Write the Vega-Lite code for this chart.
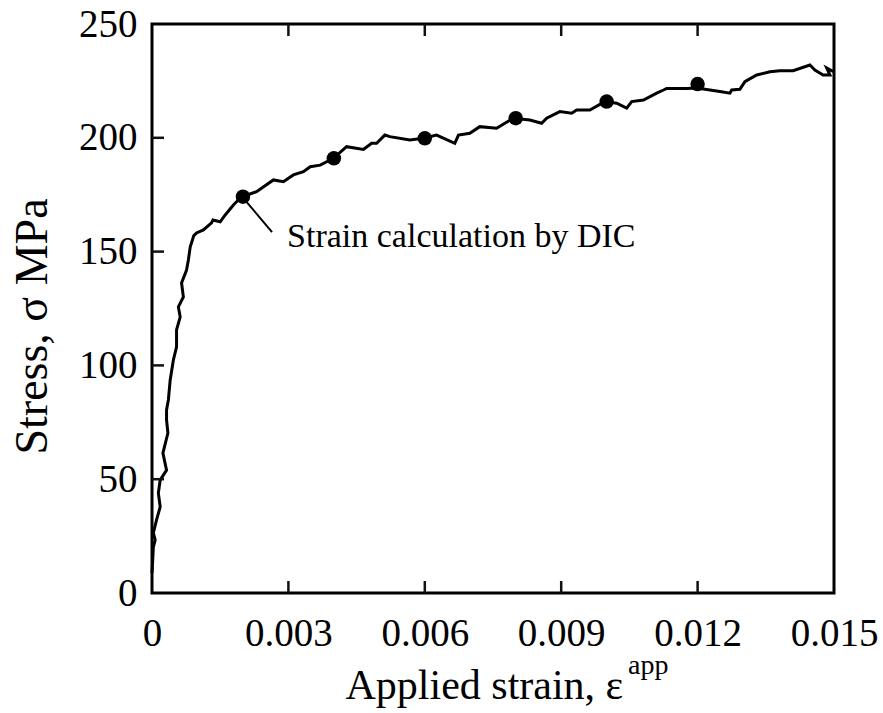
{
  "$schema": "https://vega.github.io/schema/vega-lite/v6.json",
  "width": 682,
  "height": 569,
  "autosize": "none",
  "padding": {"left": 152, "top": 24, "right": 49, "bottom": 120},
  "background": "white",
  "config": {
    "font": "Liberation Serif",
    "view": {"stroke": "black", "strokeWidth": 3},
    "axis": {
      "domain": false,
      "grid": false,
      "ticks": false,
      "labelFlush": false,
      "labelFont": "Liberation Serif",
      "labelFontSize": 39,
      "labelColor": "black",
      "titleFont": "Liberation Serif",
      "titleFontSize": 42,
      "titleFontWeight": "normal",
      "titleColor": "black"
    }
  },
  "datasets": {
    "curve": [
      {"i": 0, "strain": 0.0, "stress": 8.8},
      {"i": 1, "strain": 0.00001, "stress": 12.3},
      {"i": 2, "strain": 0.00003, "stress": 20.2},
      {"i": 3, "strain": 0.00007, "stress": 23.3},
      {"i": 4, "strain": 0.00003, "stress": 26.4},
      {"i": 5, "strain": 0.0001, "stress": 32.1},
      {"i": 6, "strain": 0.00018, "stress": 37.8},
      {"i": 7, "strain": 0.00014, "stress": 43.9},
      {"i": 8, "strain": 0.00018, "stress": 49.6},
      {"i": 9, "strain": 0.00032, "stress": 54.0},
      {"i": 10, "strain": 0.00024, "stress": 61.5},
      {"i": 11, "strain": 0.00035, "stress": 70.3},
      {"i": 12, "strain": 0.00032, "stress": 76.0},
      {"i": 13, "strain": 0.00032, "stress": 80.4},
      {"i": 14, "strain": 0.00036, "stress": 84.8},
      {"i": 15, "strain": 0.0004, "stress": 93.6},
      {"i": 16, "strain": 0.00047, "stress": 102.4},
      {"i": 17, "strain": 0.00054, "stress": 108.1},
      {"i": 18, "strain": 0.00054, "stress": 115.6},
      {"i": 19, "strain": 0.00062, "stress": 121.3},
      {"i": 20, "strain": 0.00058, "stress": 125.7},
      {"i": 21, "strain": 0.00069, "stress": 130.1},
      {"i": 22, "strain": 0.00065, "stress": 136.2},
      {"i": 23, "strain": 0.00076, "stress": 141.9},
      {"i": 24, "strain": 0.0008, "stress": 146.3},
      {"i": 25, "strain": 0.00084, "stress": 152.0},
      {"i": 26, "strain": 0.00092, "stress": 157.0},
      {"i": 27, "strain": 0.00098, "stress": 158.2},
      {"i": 28, "strain": 0.00113, "stress": 159.5},
      {"i": 29, "strain": 0.00131, "stress": 162.6},
      {"i": 30, "strain": 0.00134, "stress": 163.9},
      {"i": 31, "strain": 0.0015, "stress": 163.1},
      {"i": 32, "strain": 0.00161, "stress": 166.1},
      {"i": 33, "strain": 0.00179, "stress": 170.5},
      {"i": 34, "strain": 0.00197, "stress": 174.1},
      {"i": 35, "strain": 0.0023, "stress": 176.3},
      {"i": 36, "strain": 0.00267, "stress": 181.5},
      {"i": 37, "strain": 0.00289, "stress": 180.7},
      {"i": 38, "strain": 0.00311, "stress": 183.7},
      {"i": 39, "strain": 0.00333, "stress": 185.1},
      {"i": 40, "strain": 0.00348, "stress": 187.3},
      {"i": 41, "strain": 0.0037, "stress": 188.0},
      {"i": 42, "strain": 0.00399, "stress": 191.0},
      {"i": 43, "strain": 0.00428, "stress": 196.1},
      {"i": 44, "strain": 0.00465, "stress": 194.9},
      {"i": 45, "strain": 0.00483, "stress": 197.6},
      {"i": 46, "strain": 0.00494, "stress": 197.6},
      {"i": 47, "strain": 0.00512, "stress": 201.2},
      {"i": 48, "strain": 0.00523, "stress": 200.5},
      {"i": 49, "strain": 0.00567, "stress": 199.0},
      {"i": 50, "strain": 0.00597, "stress": 199.8},
      {"i": 51, "strain": 0.00626, "stress": 201.2},
      {"i": 52, "strain": 0.00666, "stress": 197.6},
      {"i": 53, "strain": 0.00674, "stress": 201.2},
      {"i": 54, "strain": 0.00699, "stress": 202.0},
      {"i": 55, "strain": 0.00721, "stress": 204.9},
      {"i": 56, "strain": 0.00758, "stress": 204.2},
      {"i": 57, "strain": 0.00776, "stress": 206.4},
      {"i": 58, "strain": 0.00795, "stress": 208.6},
      {"i": 59, "strain": 0.00831, "stress": 207.8},
      {"i": 60, "strain": 0.00857, "stress": 206.4},
      {"i": 61, "strain": 0.00868, "stress": 208.6},
      {"i": 62, "strain": 0.00897, "stress": 211.5},
      {"i": 63, "strain": 0.00923, "stress": 210.8},
      {"i": 64, "strain": 0.00934, "stress": 212.2},
      {"i": 65, "strain": 0.00963, "stress": 212.2},
      {"i": 66, "strain": 0.00996, "stress": 215.9},
      {"i": 67, "strain": 0.01022, "stress": 215.2},
      {"i": 68, "strain": 0.01044, "stress": 213.0},
      {"i": 69, "strain": 0.01055, "stress": 215.9},
      {"i": 70, "strain": 0.01081, "stress": 216.6},
      {"i": 71, "strain": 0.0111, "stress": 219.6},
      {"i": 72, "strain": 0.01125, "stress": 221.0},
      {"i": 73, "strain": 0.01132, "stress": 221.7},
      {"i": 74, "strain": 0.01176, "stress": 221.7},
      {"i": 75, "strain": 0.01198, "stress": 221.9},
      {"i": 76, "strain": 0.01249, "stress": 220.3},
      {"i": 77, "strain": 0.01271, "stress": 219.6},
      {"i": 78, "strain": 0.01275, "stress": 221.0},
      {"i": 79, "strain": 0.01293, "stress": 221.3},
      {"i": 80, "strain": 0.01304, "stress": 224.7},
      {"i": 81, "strain": 0.0133, "stress": 227.6},
      {"i": 82, "strain": 0.01359, "stress": 229.0},
      {"i": 83, "strain": 0.01381, "stress": 229.5},
      {"i": 84, "strain": 0.0141, "stress": 229.5},
      {"i": 85, "strain": 0.01447, "stress": 232.0},
      {"i": 86, "strain": 0.01458, "stress": 229.8},
      {"i": 87, "strain": 0.01476, "stress": 227.6},
      {"i": 88, "strain": 0.01491, "stress": 227.6},
      {"i": 89, "strain": 0.01484, "stress": 230.7},
      {"i": 90, "strain": 0.015, "stress": 228.9}
    ],
    "dic": [
      {"strain": 0.002, "stress": 174.1},
      {"strain": 0.004, "stress": 191.0},
      {"strain": 0.006, "stress": 199.8},
      {"strain": 0.008, "stress": 208.6},
      {"strain": 0.01, "stress": 215.9},
      {"strain": 0.012, "stress": 223.6}
    ],
    "xticks": [
      {"strain": 0.003}, {"strain": 0.006}, {"strain": 0.009}, {"strain": 0.012}
    ],
    "yticks": [
      {"stress": 50}, {"stress": 100}, {"stress": 150}, {"stress": 200}
    ]
  },
  "layer": [
    {
      "data": {"name": "curve"},
      "mark": {"type": "line", "color": "black", "strokeWidth": 3},
      "encoding": {
        "x": {
          "field": "strain", "type": "quantitative",
          "scale": {"domain": [0, 0.015], "nice": false, "zero": false},
          "axis": {
            "orient": "bottom",
            "values": [0, 0.003, 0.006, 0.009, 0.012, 0.015],
            "labelExpr": "datum.value == 0 ? '0' : format(datum.value, '.3f')",
            "labelPadding": 21,
            "title": "Applied strain, ε",
            "titleAnchor": "start",
            "titleAlign": "left",
            "titleX": 193,
            "titleY": 105,
            "titleBaseline": "alphabetic"
          }
        },
        "y": {
          "field": "stress", "type": "quantitative",
          "scale": {"domain": [0, 250], "nice": false, "zero": false},
          "axis": {
            "values": [0, 50, 100, 150, 200, 250],
            "labelPadding": 15,
            "title": "Stress, σ MPa",
            "titleFontSize": 46,
            "titleAngle": 270,
            "titleAlign": "center",
            "titleBaseline": "alphabetic",
            "titleX": -106,
            "titleY": 302
          }
        },
        "order": {"field": "i", "type": "quantitative"}
      }
    },
    {
      "data": {"name": "dic"},
      "mark": {"type": "point", "filled": true, "color": "black", "opacity": 1, "size": 210},
      "encoding": {
        "x": {"field": "strain", "type": "quantitative"},
        "y": {"field": "stress", "type": "quantitative"}
      }
    },
    {
      "data": {"name": "xticks"},
      "mark": {"type": "tick", "orient": "vertical", "color": "#111111", "thickness": 2.5, "size": 24, "opacity": 1, "clip": true},
      "encoding": {
        "x": {"field": "strain", "type": "quantitative"},
        "y": {"datum": 0, "type": "quantitative"}
      }
    },
    {
      "data": {"name": "xticks"},
      "mark": {"type": "tick", "orient": "vertical", "color": "#111111", "thickness": 2.5, "size": 24, "opacity": 1, "clip": true},
      "encoding": {
        "x": {"field": "strain", "type": "quantitative"},
        "y": {"datum": 250, "type": "quantitative"}
      }
    },
    {
      "data": {"name": "yticks"},
      "mark": {"type": "tick", "orient": "horizontal", "color": "#111111", "thickness": 2.5, "size": 24, "opacity": 1, "clip": true},
      "encoding": {
        "y": {"field": "stress", "type": "quantitative"},
        "x": {"datum": 0, "type": "quantitative"}
      }
    },
    {
      "data": {"values": [{}]},
      "mark": {"type": "rule", "color": "black", "strokeWidth": 2},
      "encoding": {
        "x": {"datum": 0.00198, "type": "quantitative"},
        "y": {"datum": 174.2, "type": "quantitative"},
        "x2": {"datum": 0.00264},
        "y2": {"datum": 158.6}
      }
    },
    {
      "data": {"values": [{}]},
      "mark": {"type": "text", "align": "left", "baseline": "middle", "fontSize": 34, "font": "Liberation Serif", "color": "black", "text": "Strain calculation by DIC"},
      "encoding": {
        "x": {"datum": 0.00297, "type": "quantitative"},
        "y": {"datum": 156.4, "type": "quantitative"}
      }
    },
    {
      "data": {"values": [{}]},
      "mark": {"type": "text", "align": "left", "baseline": "alphabetic", "fontSize": 28, "font": "Liberation Serif", "color": "black", "text": "app"},
      "encoding": {
        "x": {"datum": 0.01047, "type": "quantitative"},
        "y": {"datum": -35.5, "type": "quantitative"}
      }
    }
  ]
}
